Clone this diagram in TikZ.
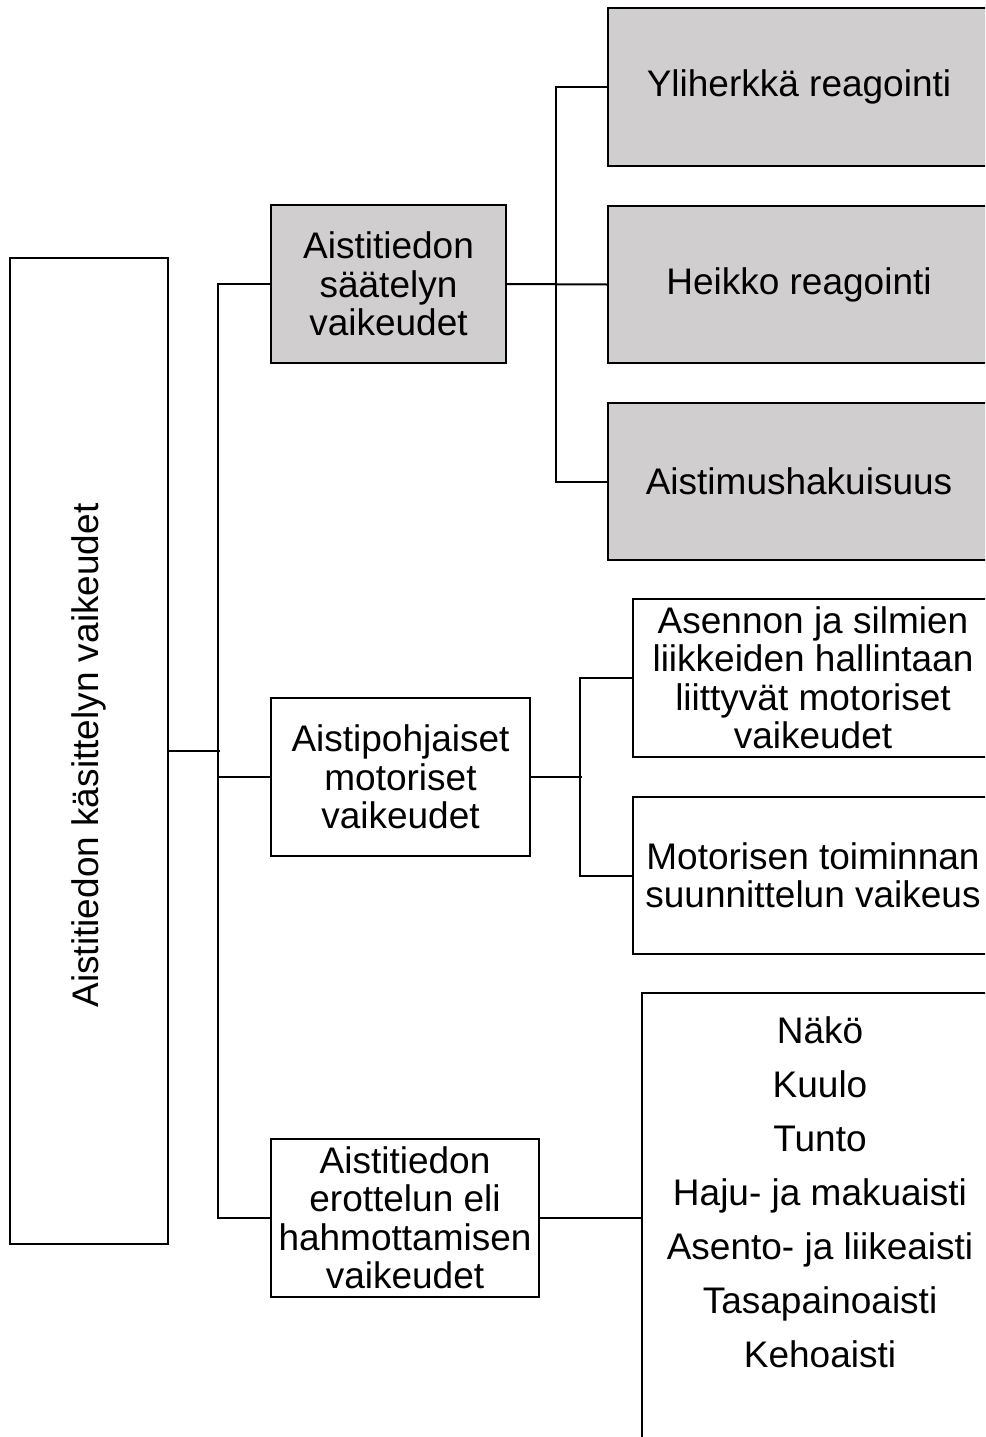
\documentclass[tikz,border=0pt]{standalone}
\usepackage{fontspec}
\usepackage{graphicx}
\setmainfont{Liberation Sans}
\definecolor{boxgray}{RGB}{208,206,206}
\begin{document}
\begin{tikzpicture}[x=1pt,y=1pt,
  box/.style={draw=black, line width=2.2pt, inner sep=0pt, align=center,
    font=\fontsize{37}{38.5}\selectfont},
  gbox/.style={box, fill=boxgray},
  conn/.style={draw=black, line width=2pt},
  listtext/.style={inner sep=0pt, align=center, font=\fontsize{37}{54}\selectfont}]
\useasboundingbox (0,0) rectangle (985,-1437);
\clip (0,0) rectangle (985,-1437);
% main box
\node[box, minimum width=158pt, minimum height=986pt] (main) at (89,-751)
  {\rotatebox{90}{Aistitiedon käsittelyn vaikeudet\hspace{9pt}}};
% level 2
\node[gbox, minimum width=235pt, minimum height=158pt] (A) at (388.5,-284) {Aistitiedon\\säätelyn\\vaikeudet};
\node[box, minimum width=259pt, minimum height=158pt] (B) at (400.5,-777) {Aistipohjaiset\\motoriset\\vaikeudet};
\node[box, minimum width=268pt, minimum height=158pt] (C) at (405,-1218) {Aistitiedon\\erottelun eli\\hahmottamisen\\vaikeudet};
% level 3
\node[gbox, minimum width=382pt, minimum height=158pt] (A1) at (799,-87) {Yliherkkä reagointi};
\node[gbox, minimum width=382pt, minimum height=157pt] (A2) at (799,-284.5) {Heikko reagointi};
\node[gbox, minimum width=382pt, minimum height=157pt] (A3) at (799,-481.5) {Aistimushakuisuus};
\node[box, minimum width=360pt, minimum height=158pt] (B1) at (813,-678) {Asennon ja silmien\\liikkeiden hallintaan\\liittyvät motoriset\\vaikeudet};
\node[box, minimum width=360pt, minimum height=157pt] (B2) at (813,-875.5) {Motorisen toiminnan\\suunnittelun vaikeus};
\node[box, minimum width=356pt, minimum height=507pt] (C1) at (820,-1246.5) {};
\node[listtext] (Clist) at (820,-1192) {Näkö\\Kuulo\\Tunto\\Haju- ja makuaisti\\Asento- ja liikeaisti\\Tasapainoaisti\\Kehoaisti};
% connectors
\draw[conn] (main.east) -- ++(51,0) coordinate (mj);
\draw[conn] (A.west) -- ++(-52,0) |- (C.west);
\draw[conn] (B.west) -- ++(-52,0);
\draw[conn] (A.east) -- (A2.west);
\draw[conn] (A1.west) -- ++(-51,0) |- (A3.west);
\draw[conn] (B.east) -- ++(51,0);
\draw[conn] (B1.west) -- ++(-52,0) |- (B2.west);
\draw[conn] (C.east) -- (C.east -| C1.west);
\end{tikzpicture}
\end{document}
